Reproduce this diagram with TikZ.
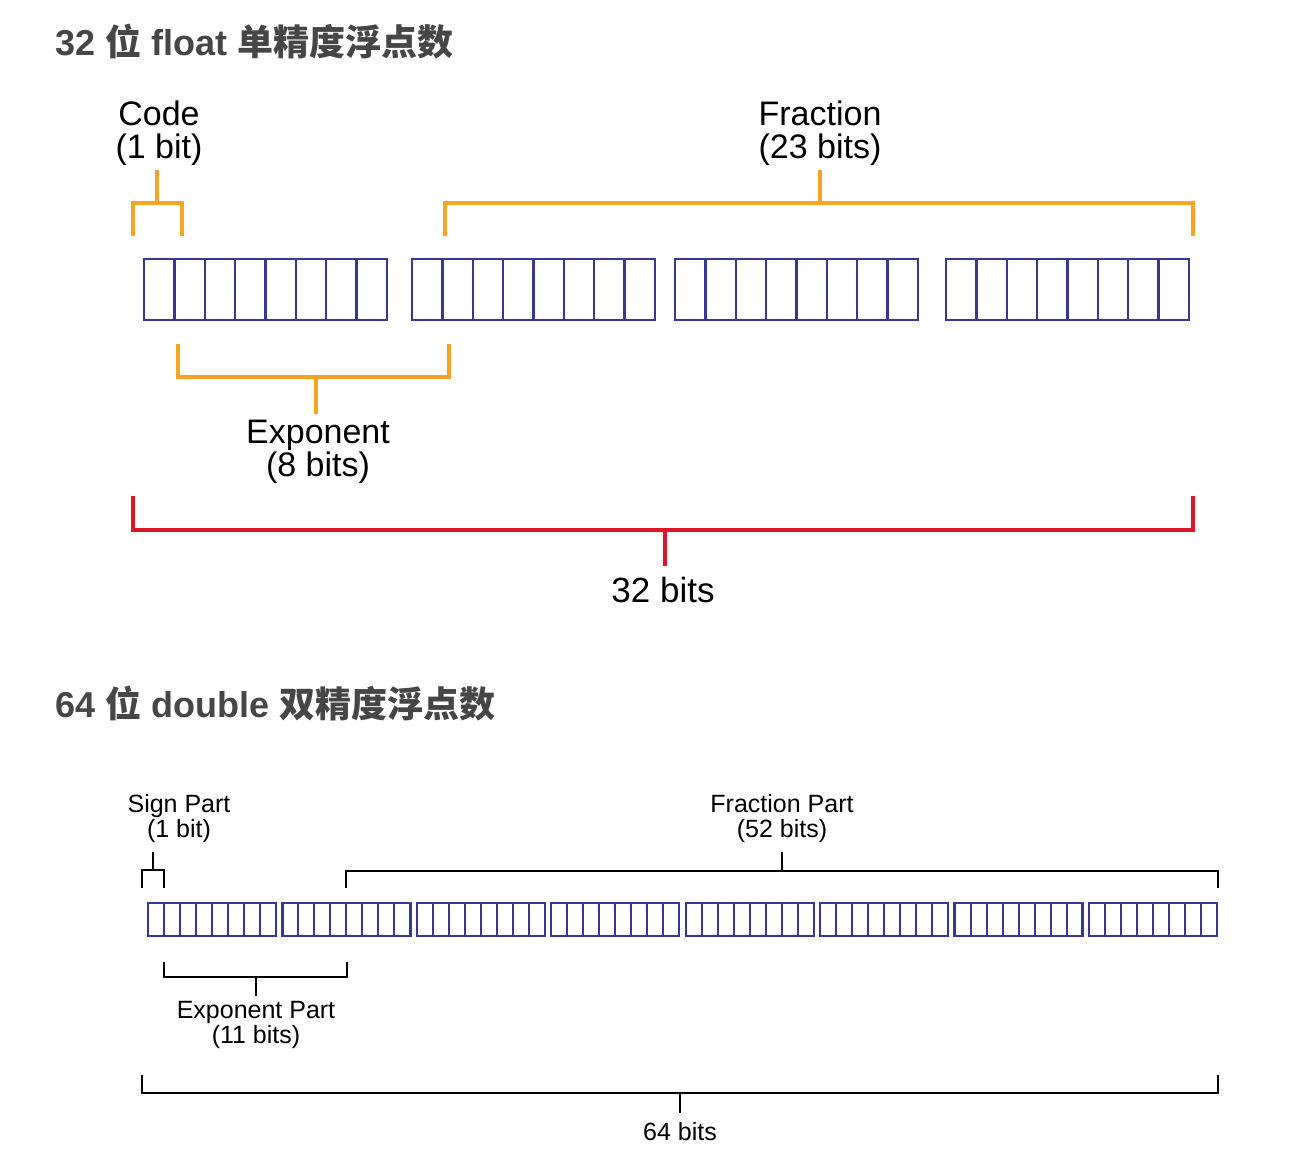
\documentclass[tikz,border=0pt]{standalone}
\usepackage{fontspec}
\setmainfont{Liberation Sans}
\newfontfamily\cjk{Noto Sans CJK SC}
\definecolor{cellblue}{RGB}{55,55,150}
\definecolor{brorange}{RGB}{245,165,35}
\definecolor{brred}{RGB}{222,20,40}
\definecolor{titlegray}{RGB}{70,70,70}
\begin{document}
\begin{tikzpicture}[x=1pt,y=-1pt,
  titletxt/.style={anchor=base west,inner sep=0pt,text=titlegray,font=\fontsize{36}{40}\selectfont},
  biglbl/.style={inner sep=0pt,align=center,font=\fontsize{34}{33}\selectfont},
  smalllbl/.style={inner sep=0pt,align=center,font=\fontsize{25}{25}\selectfont},
  obr/.style={draw=brorange,line width=4pt},
  rbr/.style={draw=brred,line width=4pt},
  kbr/.style={draw=black,line width=2.6pt},
  grpbig/.style={draw=cellblue,line width=2.6pt,minimum width=243pt,minimum height=61pt,inner sep=0pt,outer sep=0pt,anchor=north west},
  grpsmall/.style={draw=cellblue,line width=2.2pt,minimum width=128pt,minimum height=33pt,inner sep=0pt,outer sep=0pt,anchor=north west},
  celldiv/.style={draw=cellblue,line width=2pt}
]
\useasboundingbox[fill=white] (0,0) rectangle (1298,1168);

% ---------- titles ----------
\node[titletxt] (t1) at (55,55) {\bfseries 32 {\cjk\bfseries 位} float {\cjk\bfseries 单精度浮点数}};
\node[titletxt] (t2) at (55,717) {\bfseries 64 {\cjk\bfseries 位} double {\cjk\bfseries 双精度浮点数}};

% ---------- 32-bit cells ----------
\foreach \i/\x in {1/144,2/412,3/675,4/946}{
  \node[grpbig] (g32-\i) at (\x,259) {};
  \foreach \k in {1,...,7}{
    \draw[celldiv,line width=2.4pt] ([xshift=\k*30.375pt]g32-\i.north west) -- ([xshift=\k*30.375pt]g32-\i.south west);
  }
}

% labels 32-bit
\node[biglbl] (code) at (159,133) {Code\\(1 bit)};
\node[biglbl] (frac) at (820,133) {Fraction\\(23 bits)};
\node[biglbl] (expo) at (318,452) {Exponent\\(8 bits)};
\node[inner sep=0pt,font=\fontsize{35}{35}\selectfont] (b32) at (663,590) {32 bits};

% brackets 32-bit
\coordinate (cl) at (133,236); \coordinate (cr) at (182,236); \coordinate (cm) at (157,203);
\draw[obr] (cl) |- (cm) -| (cr);
\draw[obr,shorten >=4pt] (cm) -- (cm |- code.south);

\coordinate (fl) at (445,236); \coordinate (fr) at (1193,236); \coordinate (fm) at (820,203);
\draw[obr] (fl) |- (fm) -| (fr);
\draw[obr,shorten >=4pt] (fm) -- (frac.south);

\coordinate (el) at (178,344); \coordinate (er) at (449,344); \coordinate (em) at (316,377);
\draw[obr] (el) |- (em) -| (er);
\draw[obr,shorten >=6pt] (em) -- (em |- expo.north);

\coordinate (rl) at (133,496); \coordinate (rr) at (1193,496); \coordinate (rm) at (665,530);
\draw[rbr] (rl) |- (rm) -| (rr);
\draw[rbr,shorten >=11pt] (rm) -- (rm |- b32.north);

% ---------- 64-bit cells ----------
\foreach \i in {0,...,7}{
  \pgfmathsetmacro{\gx}{148+\i*134.43}
  \node[grpsmall] (g64-\i) at (\gx,903) {};
  \foreach \k in {1,...,7}{
    \draw[celldiv] ([xshift=\k*16pt]g64-\i.north west) -- ([xshift=\k*16pt]g64-\i.south west);
  }
}

% labels 64-bit
\node[smalllbl] (sign) at (179,819) {Sign Part\\(1 bit)};
\node[smalllbl] (frac2) at (782,819) {Fraction Part\\(52 bits)};
\node[smalllbl] (expo2) at (256,1025) {Exponent Part\\(11 bits)};
\node[inner sep=0pt,font=\fontsize{25}{25}\selectfont] (b64) at (680,1132) {64 bits};

% brackets 64-bit
\coordinate (sl) at (142,888); \coordinate (sr) at (164,888); \coordinate (sm) at (153,870);
\draw[kbr] (sl) |- (sm) -| (sr);
\draw[kbr,shorten >=9pt] (sm) -- (sm |- sign.south);

\coordinate (fl2) at (346,888); \coordinate (fr2) at (1218,888); \coordinate (fm2) at (782,871);
\draw[kbr] (fl2) |- (fm2) -| (fr2);
\draw[kbr,shorten >=9pt] (fm2) -- (frac2.south);

\coordinate (el2) at (164,962); \coordinate (er2) at (347,962); \coordinate (em2) at (256,977);
\draw[kbr] (el2) |- (em2) -| (er2);
\draw[kbr,shorten >=5pt] (em2) -- (expo2.north);

\coordinate (gl) at (142,1075); \coordinate (gr) at (1218,1075); \coordinate (gm) at (680,1093);
\draw[kbr] (gl) |- (gm) -| (gr);
\draw[kbr,shorten >=10pt] (gm) -- (b64.north);
\end{tikzpicture}
\end{document}
